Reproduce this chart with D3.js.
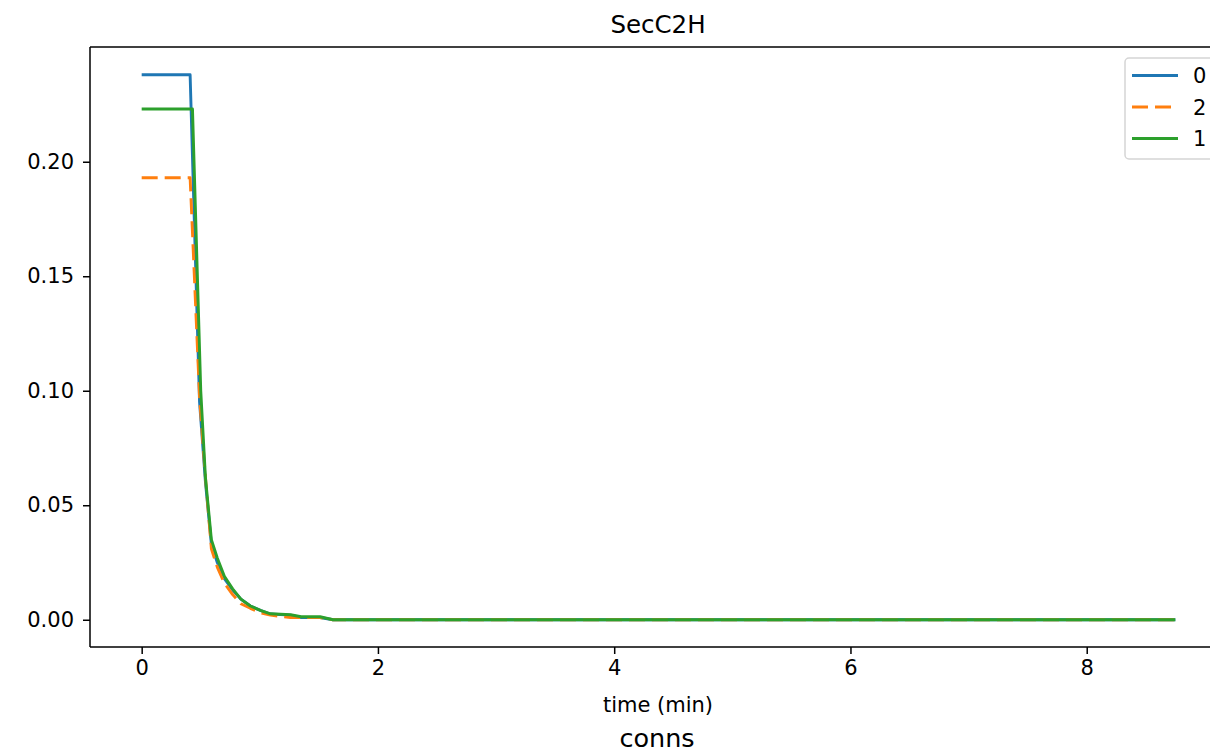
<!DOCTYPE html>
<html>
<head>
<meta charset="utf-8">
<script src="https://cdn.jsdelivr.net/npm/d3@7"></script>
<style>
  body { margin: 0; background: #fff; }
  svg { display: block; font-family: "DejaVu Sans", sans-serif; }
</style>
</head>
<body>
<svg id="chart" width="1210" height="753"></svg>
<script>
// series "0" (blue)
const time_0 = [0, 0.41, 0.49, 0.54, 0.59, 0.64, 0.70, 0.77, 0.84, 0.92, 1.01, 1.09, 1.26, 1.35, 1.51, 1.62, 8.75]
const vals_0 = [0.238, 0.238, 0.095, 0.060, 0.033, 0.025, 0.018, 0.013, 0.009, 0.006, 0.004, 0.0025, 0.002, 0.001, 0.001, 0, 0]
// series "2" (orange, dashed)
const time_2 = [0, 0.41, 0.49, 0.54, 0.59, 0.64, 0.70, 0.77, 0.84, 0.92, 1.01, 1.09, 1.26, 1.35, 1.51, 1.62, 8.75]
const vals_2 = [0.193, 0.193, 0.097, 0.062, 0.031, 0.023, 0.016, 0.011, 0.007, 0.005, 0.003, 0.002, 0.001, 0.001, 0.001, 0, 0]
// series "1" (green)
const time_1 = [0, 0.43, 0.50, 0.54, 0.59, 0.64, 0.70, 0.77, 0.84, 0.92, 1.01, 1.09, 1.26, 1.35, 1.51, 1.62, 8.75]
const vals_1 = [0.223, 0.223, 0.100, 0.062, 0.035, 0.027, 0.019, 0.0135, 0.009, 0.006, 0.004, 0.0026, 0.0022, 0.0013, 0.0013, 0, 0]

const x_ticks = [0, 2, 4, 6, 8]
const y_ticks = [0, 0.05, 0.10, 0.15, 0.20]
const legend_names = ['0', '2', '1']

const series = [
    { name: '0', t: time_0, v: vals_0, color: '#1f77b4', dash: null },
    { name: '2', t: time_2, v: vals_2, color: '#ff7f0e', dash: '16,7' },
    { name: '1', t: time_1, v: vals_1, color: '#2ca02c', dash: null }
]

const svg = d3.select('#chart')
const margin = ({ top: 47, right: -17, bottom: 106, left: 90 })
const width = 1210, height = 753

const x = d3.scaleLinear()
    .domain([-0.4375, 9.1875])
    .range([margin.left, width - margin.right])
const y = d3.scaleLinear()
    .domain([-0.0119, 0.2501])
    .range([height - margin.bottom, margin.top])

svg.append('defs').append('clipPath').attr('id', 'clip')
    .append('rect')
    .attr('x', margin.left).attr('y', margin.top)
    .attr('width', width - margin.right - margin.left)
    .attr('height', height - margin.bottom - margin.top)

const line = d3.line()
    .x(d => x(d[0]))
    .y(d => y(d[1]))

series.forEach(s => {
    svg.append('path')
        .datum(d3.zip(s.t, s.v))
        .attr('clip-path', 'url(#clip)')
        .attr('fill', 'none')
        .attr('stroke', s.color)
        .attr('stroke-width', 2.9)
        .attr('stroke-dasharray', s.dash)
        .attr('stroke-linejoin', 'round')
        .attr('d', line)
})

// axes
const xAxis = g => g
    .attr('transform', `translate(0,${height - margin.bottom})`)
    .call(d3.axisBottom(x).tickValues(x_ticks).tickFormat(d3.format('d')).tickSize(7).tickPadding(6))
const yAxis = g => g
    .attr('transform', `translate(${margin.left},0)`)
    .call(d3.axisLeft(y).tickValues(y_ticks).tickFormat(d3.format('.2f')).tickSize(7).tickPadding(9))

svg.append('g').call(xAxis)
svg.append('g').call(yAxis)
svg.selectAll('.domain').remove()
svg.selectAll('.tick line').attr('stroke', '#000').attr('stroke-width', 1.5)
svg.selectAll('.tick text').attr('font-size', 21).attr('fill', '#000')
    .attr('font-family', '"DejaVu Sans", sans-serif')

// spines
const spine = (x1, y1, x2, y2) => svg.append('line')
    .attr('x1', x1).attr('y1', y1).attr('x2', x2).attr('y2', y2)
    .attr('stroke', '#000').attr('stroke-width', 1.5)
spine(margin.left, margin.top, width - margin.right, margin.top)
spine(margin.left, height - margin.bottom, width - margin.right, height - margin.bottom)
spine(margin.left, margin.top, margin.left, height - margin.bottom)
spine(width - margin.right, margin.top, width - margin.right, height - margin.bottom)

// texts
svg.append('text').attr('x', 658).attr('y', 33).attr('text-anchor', 'middle')
    .attr('font-size', 24.5).text('SecC2H')
svg.append('text').attr('x', 658).attr('y', 712).attr('text-anchor', 'middle')
    .attr('font-size', 21).text('time (min)')
svg.append('text').attr('x', 657).attr('y', 747).attr('text-anchor', 'middle')
    .attr('font-size', 25.5).text('conns')

// legend
const lg = svg.append('g')
lg.append('rect')
    .attr('x', 1125).attr('y', 58).attr('width', 110).attr('height', 101).attr('rx', 4)
    .attr('fill', '#fff').attr('fill-opacity', 0.8)
    .attr('stroke', '#d5d5d5').attr('stroke-width', 1.5)
legend_names.forEach((name, i) => {
    const s = series.find(d => d.name === name)
    const ly = 75.5 + i * 31.5
    lg.append('line')
        .attr('x1', 1132).attr('x2', 1178).attr('y1', ly).attr('y2', ly)
        .attr('stroke', s.color).attr('stroke-width', 2.9)
        .attr('stroke-dasharray', s.dash)
    lg.append('text').attr('x', 1193).attr('y', ly + 7.5)
        .attr('font-size', 21).text(name)
})
</script>
</body>
</html>
